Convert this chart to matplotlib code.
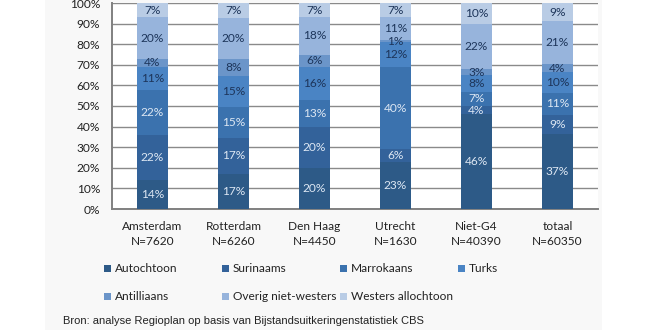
import numpy as np
import matplotlib
matplotlib.use("Agg")
import matplotlib.pyplot as plt
from matplotlib.patches import Rectangle

# Data: share of benefit recipients by origin, per region (percent)
regions = ["Amsterdam", "Rotterdam", "Den Haag", "Utrecht", "Niet-G4", "totaal"]
sizes = ["N=7620", "N=6260", "N=4450", "N=1630", "N=40390", "N=60350"]
series = ["Autochtoon", "Surinaams", "Marrokaans", "Turks",
          "Antilliaans", "Overig niet-westers", "Westers allochtoon"]
autochtoon = [14, 17, 20, 23, 46, 37]
surinaams = [22, 17, 20, 6, 4, 9]
marrokaans = [22, 15, 13, 40, 7, 11]
turks = [11, 15, 16, 12, 8, 10]
antilliaans = [4, 8, 6, 1, 3, 4]
overig = [20, 20, 18, 11, 22, 21]
westers = [7, 7, 7, 7, 10, 9]
yticks = [0, 10, 20, 30, 40, 50, 60, 70, 80, 90, 100]

values = np.array([autochtoon, surinaams, marrokaans, turks,
                   antilliaans, overig, westers], dtype=float)

colors = ["#2d5a87", "#33629a", "#3b72ae", "#4a84c4",
          "#6b95c9", "#97b4dc", "#b9cce5"]
label_colors = ["#dde7f3", "#dde7f3", "#dde7f3", "#1d355a",
                "#1d355a", "#1d355a", "#1d355a"]

W, H = 658, 330
fig = plt.figure(figsize=(W / 100, H / 100), dpi=100)
fig.patch.set_facecolor("white")

# light panel behind the chart
fig.patches.append(Rectangle((45 / W, 0), (602 - 45) / W, 1,
                             transform=fig.transFigure,
                             facecolor="#f8f8f8", edgecolor="none", zorder=-5))

ax = fig.add_axes([112 / W, 1 - 209 / H, (598 - 112) / W, (209 - 3) / H])
ax.set_facecolor("white")
ax.set_zorder(2)

font = "Lato"
fs = 8.6
txt = "#222222"
x = np.arange(len(regions))
# 100% stacked: normalise each column to its total
shares = values / values.sum(axis=0) * 100
bottom = np.zeros(len(regions))
for i, name in enumerate(series):
    ax.bar(x, shares[i], 0.38, bottom=bottom, color=colors[i],
           edgecolor="none", zorder=3, label=name)
    for j in range(len(regions)):
        ax.text(x[j], bottom[j] + shares[i][j] / 2, f"{values[i][j]:.0f}%",
                ha="center", va="center", fontsize=fs, family=font,
                color=label_colors[i], zorder=4)
    bottom += shares[i]

ax.set_xlim(-0.5, len(regions) - 0.5)
ax.set_ylim(0, 100)
ax.set_yticks(yticks)
ax.set_yticklabels([f"{t}%" for t in yticks], fontsize=fs, family=font,
                   color=txt)
ax.yaxis.grid(True, color="#8a8a8a", linewidth=1.0, zorder=1)
ax.set_axisbelow(True)
ax.tick_params(axis="y", length=0, pad=8.5)
ax.tick_params(axis="x", length=0, pad=9)
ax.set_xticks(x)
ax.set_xticklabels([f"{r}\n{n}" for r, n in zip(regions, sizes)],
                   fontsize=fs, family=font, color=txt, linespacing=1.4)
for s in ["top", "right"]:
    ax.spines[s].set_visible(False)
ax.spines["left"].set_color("#808080")
ax.spines["left"].set_linewidth(1.4)
ax.spines["bottom"].set_color("#808080")
ax.spines["bottom"].set_linewidth(1.4)

# legend laid out in fixed-width columns, four per row
col_x = [104, 222, 340, 458]
row_y = [268, 296]
for k, name in enumerate(series):
    cx = col_x[k % 4]
    cy = row_y[k // 4]
    fig.patches.append(Rectangle((cx / W, 1 - (cy + 3.5) / H), 7 / W, 7 / H,
                                 transform=fig.transFigure,
                                 facecolor=colors[k], edgecolor="none"))
    fig.text((cx + 11) / W, 1 - cy / H, name, fontsize=fs, family=font,
             color=txt, va="center", ha="left")

fig.text(63 / W, 1 - 321 / H,
         "Bron: analyse Regioplan op basis van Bijstandsuitkeringenstatistiek CBS",
         fontsize=8, family="Liberation Sans", color=txt, va="center")

fig.savefig("out.png", dpi=100, facecolor=fig.get_facecolor())
